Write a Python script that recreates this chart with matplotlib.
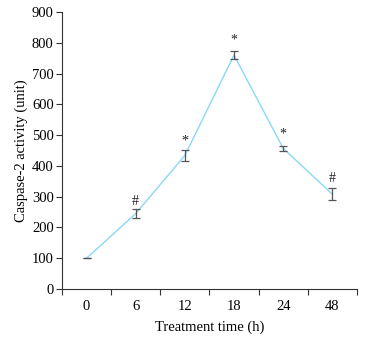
import matplotlib
matplotlib.use("Agg")
import matplotlib.pyplot as plt
import numpy as np

categories = ["0", "6", "12", "18", "24", "48"]
values = [100, 245, 434, 760, 457, 308]
errors = [0, 15, 18, 12, 9, 19]
marks = ["", "#", "*", "*", "*", "#"]
mark_y = [0, 283, 481, 808, 503, 360]
yticks = [0, 100, 200, 300, 400, 500, 600, 700, 800, 900]

plt.rcParams['font.family'] = ['Liberation Serif', 'DejaVu Serif']

fig = plt.figure(figsize=(3.85, 3.38), dpi=100)
ax = fig.add_axes([0.161, 0.145, 0.766, 0.8195])

x = np.arange(len(categories))
ax.plot(x, values, color='#8ad8f5', lw=1.0, zorder=2)
ax.errorbar(x, values, yerr=errors, fmt='none', ecolor='#555555',
            elinewidth=0.9, capsize=3, capthick=0.9, zorder=3)
for xi, m, my in zip(x, marks, mark_y):
    if m:
        ax.text(xi, my, m, ha='center', va='center', fontsize=10, color='#222222')

ax.set_xlim(-0.5, len(categories) - 0.5)
ax.set_ylim(0, 900)
ax.set_yticks(yticks)
ax.set_xticks(x)
ax.set_xticklabels(categories)
ax.set_xticks(np.arange(-0.5, len(categories)), minor=True)
ax.tick_params(axis='x', which='major', length=0, pad=8, labelsize=10.5)
ax.tick_params(axis='x', which='minor', length=4, width=0.8, direction='out', color='#333333')
ax.tick_params(axis='y', length=4, width=0.8, direction='out', labelsize=10.5, pad=2, color='#333333')
for s in ['top', 'right']:
    ax.spines[s].set_visible(False)
for s in ['left', 'bottom']:
    ax.spines[s].set_linewidth(0.8)
    ax.spines[s].set_color('#333333')

ax.set_ylabel("Caspase-2 activity (unit)", fontsize=10.5, labelpad=3)
ax.set_xlabel("Treatment time (h)", fontsize=10.5, labelpad=5)

fig.savefig("out.png", dpi=100)
